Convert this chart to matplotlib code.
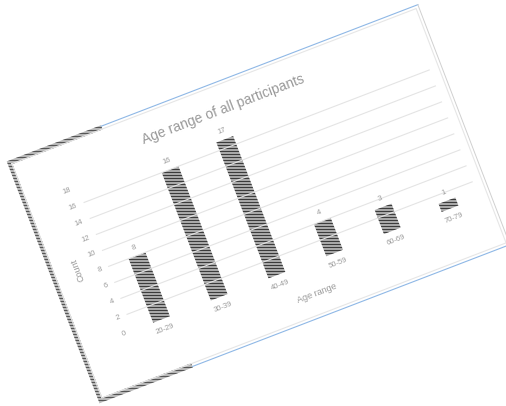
import matplotlib
matplotlib.use("Agg")
import matplotlib.pyplot as plt
from matplotlib.patches import Polygon
from matplotlib.transforms import Affine2D
import mpl_toolkits.axisartist.floating_axes as floating_axes
from mpl_toolkits.axisartist.grid_finder import FixedLocator, DictFormatter

# data
age_groups = ["20-29", "30-39", "40-49", "50-59", "60-69", "70-79"]
counts = [8, 16, 17, 4, 3, 1]
count_ticks = [0, 2, 4, 6, 8, 10, 12, 14, 16, 18]

title = "Age range of all participants"
x_label = "Age range"
y_label = "Count"

# 72 dpi so the hatch tile (72 pt) is 72 px and the stripes land on whole pixels
DPI = 72
K = 100 / DPI   # sizes below were tuned in "100 dpi" points

plt.rcParams["font.family"] = ["Liberation Sans", "DejaVu Sans"]
plt.rcParams["hatch.color"] = "#3c3c3c"
plt.rcParams["hatch.linewidth"] = 1.4

W, H = 506, 406
ANGLE = 21

# page frame: local pixels (u right, v down) -> figure pixels (y up)
local = Affine2D().scale(1, -1).rotate_deg(ANGLE).translate(8, 244)
# chart data (category index, count) -> local pixels
tr = Affine2D().scale(61.8, -8.56).translate(86.9, 202) + local

cat_idx = list(range(len(age_groups)))
grid_helper = floating_axes.GridHelperCurveLinear(
    tr, extremes=(-0.5, len(age_groups) - 0.5, 0, max(count_ticks)),
    grid_locator1=FixedLocator(cat_idx),
    tick_formatter1=DictFormatter({i: g for i, g in zip(cat_idx, age_groups)}),
    grid_locator2=FixedLocator(count_ticks),
    tick_formatter2=DictFormatter({t: str(t) for t in count_ticks}))

fig = plt.figure(figsize=(W / DPI, H / DPI), dpi=DPI)
ax = fig.add_axes([0, 0, 1, 1], axes_class=floating_axes.FloatingAxes,
                  grid_helper=grid_helper)
ax.set_xlim(0, W)
ax.set_ylim(0, H)

ax.grid(True, axis="y", color="#e4e4e4", linewidth=0.8 * K)

text_col = "#9a9a9a"
for side in ["left", "bottom", "top", "right"]:
    ax.axis[side].line.set_visible(False)
    ax.axis[side].major_ticks.set_visible(False)
for side in ["top", "right"]:
    ax.axis[side].major_ticklabels.set_visible(False)
    ax.axis[side].label.set_visible(False)

ax.axis["left"].major_ticklabels.set(color=text_col, fontsize=5.5 * K)
ax.axis["left"].major_ticklabels.set_pad(5 * K)
ax.axis["bottom"].major_ticklabels.set(color=text_col, fontsize=5.5 * K)
ax.axis["bottom"].major_ticklabels.set_pad(5 * K)
ax.axis["left"].label.set(text=y_label, color=text_col, fontsize=6.5 * K)
ax.axis["left"].label.set_pad(7 * K)
ax.axis["bottom"].label.set(text=x_label, color=text_col, fontsize=6.5 * K)
ax.axis["bottom"].label.set_pad(11 * K)

aux = ax.get_aux_axes(tr)
aux.bar(cat_idx, counts, width=0.29, color="#c4c4c4", edgecolor="#3c3c3c",
        linewidth=0, hatch="----")
for i, n in zip(cat_idx, counts):
    aux.text(i, n + 0.6, str(n), rotation=ANGLE, rotation_mode="anchor",
             ha="center", va="bottom", fontsize=5.5 * K, color=text_col)

aux.text(2.14, 20.3, title, rotation=ANGLE, rotation_mode="anchor",
         ha="center", va="center", fontsize=10 * K, color="#999999")

# page frame around the chart
fw, fh = 439, 257
ft = local + ax.transData
ax.plot([3, fw - 3, fw - 3, 3, 3], [3, 3, fh - 3, fh - 3, 3],
        color="#e6e6e6", lw=0.8 * K, transform=ft, clip_on=False)
ax.plot([100, fw], [0, 0], color="#8fb8e6", lw=0.8 * K, transform=ft, clip_on=False)
ax.plot([99, fw], [fh, fh], color="#8fb8e6", lw=0.8 * K, transform=ft, clip_on=False)
ax.plot([fw, fw], [0, fh], color="#d0d0d0", lw=0.7 * K, transform=ft, clip_on=False)
# dark striped band on the left side of the page
band = 4.5
ax.add_patch(Polygon([(100, -1), (-1, -1), (-1, fh + 1), (99, fh + 1),
                      (99, fh + 1 - band), (-1 + band, fh + 1 - band),
                      (-1 + band, -1 + band), (100, -1 + band)],
                     closed=True, transform=ft, facecolor="#cfcfcf",
                     edgecolor="#555555", linewidth=0, hatch="----",
                     clip_on=False))

fig.savefig("out.png", dpi=DPI)
